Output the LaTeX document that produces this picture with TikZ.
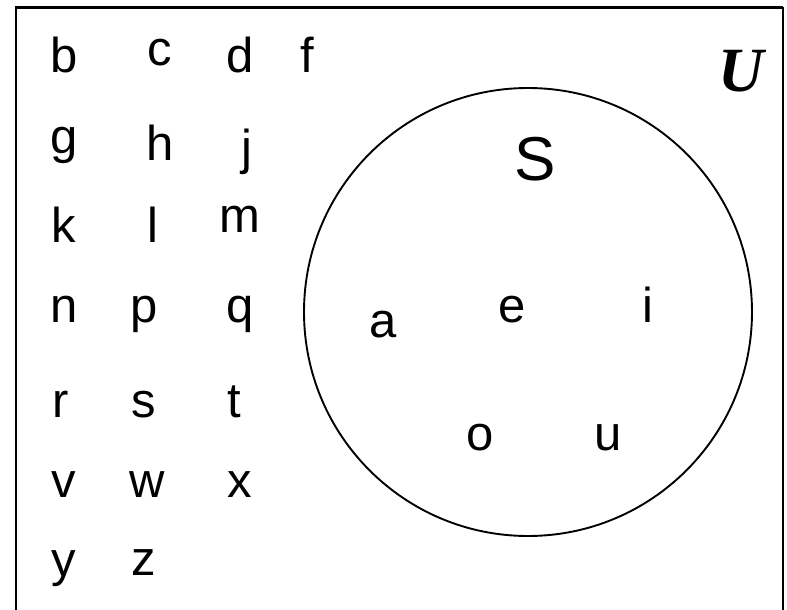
\documentclass[tikz,border=0pt]{standalone}
\usepackage{fontspec}
\setmainfont{Liberation Sans}
\newfontfamily\serifU{Liberation Serif}
\begin{document}
\begin{tikzpicture}[x=1pt,y=-1pt,
  letter/.style={font=\fontsize{49}{49}\selectfont, anchor=base, inner sep=0pt},
  frame/.style={line width=2.4pt},
  setcircle/.style={circle, draw, line width=1.9pt, minimum size=448pt, inner sep=0pt}]
\useasboundingbox (0,0) rectangle (787,610);
\draw[frame] (16,610) -- (16,7.5) -- (783,7.5);
\draw[line width=2pt] (783,7.5) -- (783,610);
\node[setcircle] (setS) at (528,312) {};
\node[anchor=base, inner sep=0pt, font=\serifU\bfseries\itshape\fontsize{63}{63}\selectfont] (U) at (741,92) {U};
\node[anchor=base, inner sep=0pt, font=\fontsize{62}{62}\selectfont] (S) at (535,180) {S};
% left letters
\node[letter] (b) at (64.5,73) {b};
\node[letter] (c) at (160,66) {c};
\node[letter] (d) at (240,73) {d};
\node[letter] (f) at (307,73) {f};
\node[letter] (g) at (64.5,153) {g};
\node[letter] (h) at (160,160) {h};
\node[letter] (j) at (247,164) {j};
\node[letter] (k) at (64,242) {k};
\node[letter] (l) at (153,242) {l};
\node[letter] (m) at (240,232) {m};
\node[letter] (n) at (64,322) {n};
\node[letter] (p) at (144,322) {p};
\node[letter] (q) at (240,322) {q};
\node[letter] (r) at (61,417) {r};
\node[letter] (s) at (144,417) {s};
\node[letter] (t) at (234,417) {t};
\node[letter] (v) at (64,497) {v};
\node[letter] (w) at (147,497) {w};
\node[letter] (x) at (240,497) {x};
\node[letter] (y) at (64,576) {y};
\node[letter] (z) at (144,575) {z};
% vowels
\node[letter] (a) at (383,337) {a};
\node[letter] (e) at (512,322) {e};
\node[letter] (i) at (648,322) {i};
\node[letter] (o) at (480,450) {o};
\node[letter] (u) at (608,450) {u};
\end{tikzpicture}
\end{document}
